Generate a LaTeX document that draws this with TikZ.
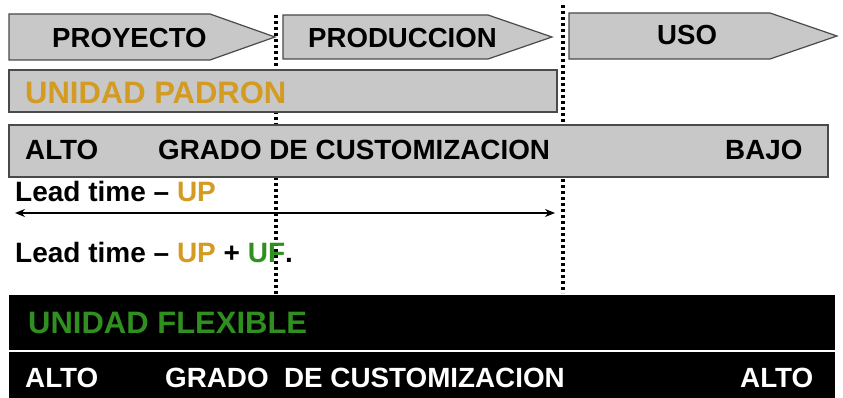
\documentclass[tikz,border=0pt]{standalone}
\usepackage{fontspec}
\setmainfont{Liberation Sans}
\usetikzlibrary{arrows.meta}
\definecolor{padron}{HTML}{D39B22}
\definecolor{flexible}{HTML}{2F8F1F}
\definecolor{cajagris}{HTML}{C8C8C8}
\definecolor{borde}{HTML}{4A4A4A}
\newcommand*{\letra}[1]{\fontsize{#1}{#1}\selectfont\bfseries}

\begin{document}
\begin{tikzpicture}[x=1pt,y=1pt]
\tikzstyle caja=[fill=cajagris,draw=borde,line width=1.2pt]
\tikzstyle etapa=[anchor=base west,inner sep=0pt,font=\letra{27.6}]
\tikzstyle rotulo=[anchor=base west,inner sep=0pt,font=\letra{27.8}]
\tikzstyle titulo=[anchor=base west,inner sep=0pt,font=\letra{31}]
\tikzstyle lead=[anchor=base west,inner sep=0pt,font=\letra{28}]
\tikzstyle limite=[line width=3.4pt,dash pattern=on 3pt off 3pt]
 \useasboundingbox (0,0) rectangle (843,397);
 % limites entre etapas
 \coordinate (lim1 arriba) at (276,382);
 \coordinate (lim1 abajo) at (276,102);
 \coordinate (lim2 arriba) at (563,392);
 \coordinate (lim2 abajo) at (563,104);
 \draw[limite] (lim1 arriba) -- (lim1 abajo);
 \draw[limite] (lim2 arriba) -- (lim2 abajo);
 % etapas
 \draw[caja] (9,383) -- (210,383) -- (275,360) -- (210,337) -- (9,337) -- cycle;
 \draw[caja] (283,382) -- (488,382) -- (552,360) -- (488,338) -- (283,338) -- cycle;
 \draw[caja] (569,384) -- (770,384) -- (837,361) -- (770,338) -- (569,338) -- cycle;
 \node[etapa] (proyecto) at (52,349) {PROYECTO};
 \node[etapa] (produccion) at (308,349) {PRODUCCION};
 \node[etapa] (uso) at (657,352) {USO};
 % unidad padron
 \draw[caja] (9,285) rectangle (557,327);
 \node[titulo,text=padron] (up) at (25,293) {UNIDAD PADRON};
 \draw[caja] (9,220) rectangle (828,272);
 \node[rotulo] (alto up) at (25,238) {ALTO};
 \node[rotulo] (grado up) at (158,238) {GRADO DE CUSTOMIZACION};
 \node[rotulo] (bajo) at (725,238) {BAJO};
 % lead time
 \node[lead] (lead up) at (15,196) {Lead time -- {\color{padron}UP}};
 \coordinate (lead ini) at (15,184);
 \coordinate (lead fin) at (555,184);
 \draw[line width=1.3pt,{Stealth[length=10pt,width=8pt]}-{Stealth[length=10pt,width=8pt]}] (lead ini) -- (lead fin);
 \node[lead] (lead uf) at (15,135) {Lead time -- {\color{padron}UP} + {\color{flexible}UF}.};
 % unidad flexible
 \fill[black] (9,47) rectangle (835,102);
 \fill[black] (9,-2) rectangle (835,45);
 \node[titulo,text=flexible] (uf) at (28,64) {UNIDAD FLEXIBLE};
 \node[rotulo,text=white] (alto uf) at (25,10) {ALTO};
 \node[rotulo,text=white] (grado uf) at (165,10) {GRADO\ \ DE CUSTOMIZACION};
 \node[rotulo,text=white] (alto fin) at (740,10) {ALTO};
\end{tikzpicture}
\end{document}
